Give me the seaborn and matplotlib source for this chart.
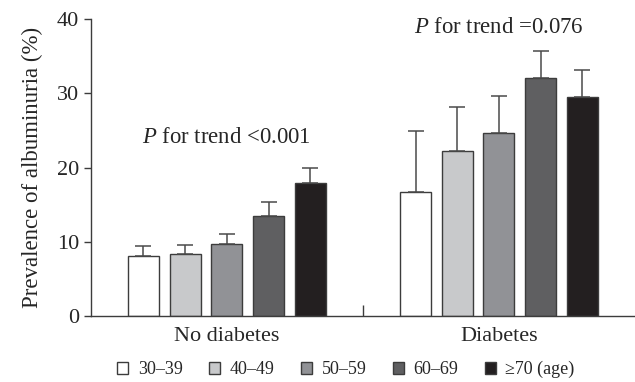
import matplotlib
matplotlib.use("Agg")
import matplotlib.pyplot as plt
import seaborn as sns
import pandas as pd
import numpy as np

groups = ["No diabetes", "Diabetes"]
age_groups = ["30\u201339", "40\u201349", "50\u201359", "60\u201369", "\u226570 (age)"]
prev_no_diabetes = [8.1, 8.3, 9.7, 13.5, 17.9]
prev_diabetes = [16.7, 22.2, 24.7, 32.1, 29.5]
upper_no_diabetes = [9.4, 9.6, 11.0, 15.4, 20.0]
upper_diabetes = [24.9, 28.1, 29.6, 35.7, 33.2]
fill_colors = ["#ffffff", "#c8c9cb", "#919296", "#5f5f61", "#231f20"]

sns.set_style("ticks")
plt.rcParams["font.family"] = ["Liberation Serif", "DejaVu Serif"]
plt.rcParams["mathtext.fontset"] = "custom"
plt.rcParams["mathtext.rm"] = "Liberation Serif"
plt.rcParams["mathtext.it"] = "Liberation Serif:italic"

rows = []
for g, vals, ups in [(groups[0], prev_no_diabetes, upper_no_diabetes),
                     (groups[1], prev_diabetes, upper_diabetes)]:
    for a, v, u in zip(age_groups, vals, ups):
        rows.append({"group": g, "age": a, "prev": v, "upper": u})
df = pd.DataFrame(rows)

fig = plt.figure(figsize=(6.35, 3.82), dpi=100)
ax = fig.add_axes([0.143, 0.173, 0.857, 0.777])

sns.barplot(data=df, x="group", y="prev", hue="age", order=groups,
            hue_order=age_groups, palette=fill_colors, errorbar=None,
            width=0.766, gap=0.255, edgecolor="#3c3c3c", linewidth=1.0,
            saturation=1, ax=ax)

# upper error bars, taken from the drawn bars
bars = [p for p in ax.patches if p.get_height() > 0]
for p in bars:
    cx = p.get_x() + p.get_width() / 2
    h = p.get_height()
    match = df[np.isclose(df["prev"], h)]
    up = match["upper"].iloc[0]
    ax.errorbar(cx, h, yerr=[[0], [up - h]], fmt="none", ecolor="#4a4a4a",
                elinewidth=1.1, capsize=5.8, capthick=1.1, zorder=1)

handles, labels = ax.get_legend_handles_labels()
ax.get_legend().remove()
fig.legend(handles, labels, loc="center", bbox_to_anchor=(0.545, 0.032),
           ncol=5, frameon=False, fontsize=13, handlelength=0.6,
           handleheight=0.6, handletextpad=0.55, columnspacing=1.45)

ax.set_xlim(-0.5, 1.5)
ax.set_ylim(0, 40)
ax.set_yticks([0, 10, 20, 30, 40])
ax.set_xlabel("")
ax.set_ylabel("Prevalence of albuminuria (%)", fontsize=16.5, labelpad=10)
ax.tick_params(axis="y", labelsize=16, length=5, width=1, color="#3c3c3c")
ax.tick_params(axis="x", which="major", length=0, labelsize=16, pad=8)
ax.set_xticks([0.5], minor=True)
ax.tick_params(axis="x", which="minor", direction="in", length=8, width=1,
               color="#3c3c3c")
for s in ["top", "right"]:
    ax.spines[s].set_visible(False)
for s in ["left", "bottom"]:
    ax.spines[s].set_color("#3c3c3c")
    ax.spines[s].set_linewidth(1.0)

ax.text(0, 24.1, r"$\mathit{P}$ for trend <0.001", ha="center", va="center",
        fontsize=16.4)
ax.text(1, 38.9, r"$\mathit{P}$ for trend =0.076", ha="center", va="center",
        fontsize=16.4)

fig.savefig("out.png", dpi=100)
